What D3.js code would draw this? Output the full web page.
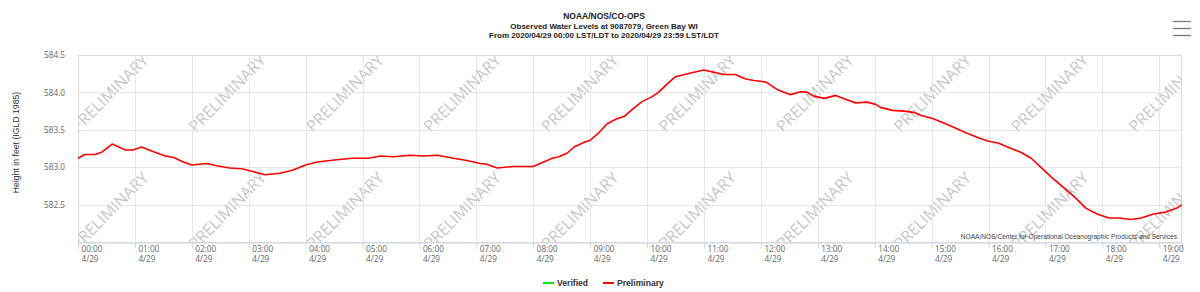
<!DOCTYPE html>
<html>
<head>
<meta charset="utf-8">
<title>Observed Water Levels at 9087079, Green Bay WI</title>
<script src="https://cdnjs.cloudflare.com/ajax/libs/d3/7.8.5/d3.min.js"></script>
<style>
    body { margin: 0; background: #fff; }
    #renderer { display: block; background: #fff; }
</style>
</head>
<body>
<svg id="renderer" width="1200" height="292"></svg>
<script>
    // data (6-minute water levels, feet IGLD 1985)
    var times = ['00:00','00:07','00:18','00:25','00:36','00:50','00:58','01:07','01:19','01:32',
        '01:41','01:51','02:00','02:16','02:26','02:40','02:53','03:05','03:17','03:33',
        '03:46','04:00','04:12','04:33','04:49','05:06','05:19','05:33','05:50','06:04',
        '06:19','06:36','06:50','07:04','07:11','07:22','07:39','08:00','08:09','08:20',
        '08:27','08:36','08:43','08:55','09:00','09:09','09:18','09:27','09:36','09:46',
        '09:55','10:05','10:12','10:21','10:30','10:46','11:00','11:10','11:21','11:33',
        '11:44','11:53','12:05','12:17','12:31','12:42','12:49','12:56','13:07','13:19',
        '13:29','13:40','13:52','14:01','14:06','14:19','14:31','14:42','14:49','15:01',
        '15:11','15:22','15:36','15:48','15:59','16:11','16:20','16:34','16:45','16:55',
        '17:06','17:18','17:30','17:43','17:55','18:07','18:18','18:30','18:41','18:53',
        '19:07','19:18','19:24'];
    var levels = [583.12,583.17,583.17,583.20,583.31,583.23,583.23,583.27,583.21,583.15,
        583.13,583.07,583.03,583.05,583.02,582.99,582.98,582.94,582.90,582.92,
        582.96,583.03,583.07,583.10,583.12,583.12,583.15,583.14,583.16,583.15,
        583.16,583.12,583.09,583.05,583.04,582.99,583.01,583.01,583.06,583.12,
        583.14,583.19,583.27,583.34,583.36,583.46,583.58,583.64,583.68,583.79,
        583.88,583.94,584.00,584.11,584.21,584.26,584.30,584.27,584.24,584.24,
        584.18,584.16,584.14,584.04,583.97,584.01,584.00,583.95,583.92,583.96,
        583.91,583.86,583.87,583.84,583.80,583.76,583.75,583.73,583.69,583.65,
        583.60,583.54,583.46,583.40,583.35,583.32,583.27,583.20,583.12,583.00,
        582.87,582.74,582.61,582.45,582.37,582.32,582.32,582.30,582.32,582.37,
        582.40,582.45,582.50];
    var yTicks = [582.5, 583.0, 583.5, 584.0, 584.5];
    var yRange = [582.0, 584.5];
    var dayLabel = '4/29';
    var titleLines = ['NOAA/NOS/CO-OPS',
        'Observed Water Levels at 9087079, Green Bay WI',
        'From 2020/04/29 00:00 LST/LDT to 2020/04/29 23:59 LST/LDT'];
    var yTitle = 'Height in feet (IGLD 1985)';
    var legendNames = ['Verified', 'Preliminary'];
    var legendColors = ['#00ee00', '#ff0000'];
    var creditText = 'NOAA/NOS/Center for Operational Oceanographic Products and Services';
    var watermark = 'PRELIMINARY';

    var W = 1200, H = 292;
    var plot = { left: 78, right: 1182, top: 55, bottom: 242 };
    var labelFont = '"Open Sans", "Liberation Sans", Arial, sans-serif';
    var arial = '"Liberation Sans", Arial, sans-serif';

    var parse = d3.timeParse('%Y-%m-%d %H:%M');
    var data = times.map(function (t, i) {
        return { t: parse('2020-04-29 ' + t), v: levels[i] };
    });

    var root = d3.select('#renderer');

    var x = d3.scaleTime()
        .domain([data[0].t, data[data.length - 1].t])
        .range([plot.left, plot.right]);
    var y = d3.scaleLinear()
        .domain(yRange)
        .range([plot.bottom, plot.top]);

    root.append('defs').append('clipPath').attr('id', 'plotclip')
        .append('rect')
        .attr('x', plot.left).attr('y', plot.top)
        .attr('width', plot.right - plot.left)
        .attr('height', plot.bottom - plot.top);

    // watermark tiles
    var wm = root.append('g').attr('clip-path', 'url(#plotclip)');
    var step = 117.5;
    for (var j = 0; j < 2; j++) {
        for (var i = 0; i < 10; i++) {
            var wx = plot.left + step * i;
            var wy = 133 + step * j;
            wm.append('text')
                .attr('transform', 'translate(' + wx + ',' + wy + ') rotate(-45)')
                .attr('font-family', labelFont)
                .attr('font-size', '16px')
                .attr('fill', '#c8c8c8')
                .text(watermark);
        }
    }

    // grid
    var hourTicks = x.ticks(d3.timeHour.every(1));
    root.append('g').selectAll('line.vg')
        .data(hourTicks).enter().append('line')
        .attr('x1', function (d) { return Math.round(x(d)) + 0.5; })
        .attr('x2', function (d) { return Math.round(x(d)) + 0.5; })
        .attr('y1', plot.top).attr('y2', plot.bottom)
        .attr('stroke', '#e6e6e6');
    root.append('g').selectAll('line.hg')
        .data(yTicks).enter().append('line')
        .attr('x1', plot.left).attr('x2', plot.right)
        .attr('y1', function (d) { return Math.round(y(d)) + 0.5; })
        .attr('y2', function (d) { return Math.round(y(d)) + 0.5; })
        .attr('stroke', '#e6e6e6');

    // plot border
    root.append('rect')
        .attr('x', plot.left + 0.5).attr('y', plot.top + 0.5)
        .attr('width', plot.right - plot.left - 1)
        .attr('height', plot.bottom - plot.top)
        .attr('fill', 'none')
        .attr('stroke', '#dadada');

    // x axis
    var xAxis = d3.axisBottom(x)
        .ticks(d3.timeHour.every(1))
        .tickSize(6)
        .tickFormat(d3.timeFormat('%H:%M'));
    var gx = root.append('g')
        .attr('transform', 'translate(0,' + (plot.bottom + 0.5) + ')')
        .call(xAxis);
    gx.select('.domain').attr('stroke', '#ccd6eb');
    gx.selectAll('.tick line').attr('stroke', '#ccd6eb');
    gx.selectAll('.tick text')
        .attr('font-family', labelFont)
        .attr('font-size', '8.2px')
        .attr('fill', '#666')
        .attr('text-anchor', 'start')
        .attr('x', 3).attr('y', 0).attr('dy', null)
        .each(function () {
            var t = d3.select(this);
            var hh = t.text();
            t.text(null);
            t.append('tspan').attr('x', 3).attr('y', 9).text(hh);
            t.append('tspan').attr('x', 3).attr('y', 19.5).text(dayLabel);
        });

    // y axis labels
    var yAxis = d3.axisLeft(y).tickValues(yTicks).tickSize(0).tickPadding(13)
        .tickFormat(d3.format('.1f'));
    var gy = root.append('g')
        .attr('transform', 'translate(' + plot.left + ',0)')
        .call(yAxis);
    gy.select('.domain').remove();
    gy.selectAll('.tick text')
        .attr('font-family', labelFont)
        .attr('font-size', '8.2px')
        .attr('fill', '#666');

    root.append('text')
        .attr('transform', 'translate(19,' + ((plot.top + plot.bottom) / 2 - 6) + ') rotate(-90)')
        .attr('text-anchor', 'middle')
        .attr('font-family', arial)
        .attr('font-size', '8.7px')
        .attr('fill', '#333')
        .text(yTitle);

    // series
    var line = d3.line()
        .x(function (d) { return x(d.t); })
        .y(function (d) { return y(d.v); });
    root.append('path')
        .datum(data)
        .attr('clip-path', 'url(#plotclip)')
        .attr('d', line)
        .attr('fill', 'none')
        .attr('stroke', '#ff0000')
        .attr('stroke-width', 1.6)
        .attr('stroke-linejoin', 'round');

    // title
    var titleY = [18.5, 28.5, 38];
    root.append('g').selectAll('text')
        .data(titleLines).enter().append('text')
        .attr('x', 604)
        .attr('y', function (d, i) { return titleY[i]; })
        .attr('text-anchor', 'middle')
        .attr('font-family', arial)
        .attr('font-weight', 'bold')
        .attr('font-size', function (d, i) { return i === 0 ? '8.5px' : '8px'; })
        .attr('fill', '#222')
        .text(function (d) { return d; });

    // credits
    root.append('text')
        .attr('x', 1177).attr('y', 239)
        .attr('text-anchor', 'end')
        .attr('font-family', arial)
        .attr('font-size', '6.6px')
        .attr('fill', '#444')
        .text(creditText);

    // legend
    var legendX = [543, 603];
    var lg = root.append('g').selectAll('g')
        .data(legendNames).enter().append('g')
        .attr('transform', function (d, i) { return 'translate(' + legendX[i] + ',283)'; });
    lg.append('line')
        .attr('x1', 0).attr('x2', 11)
        .attr('stroke', function (d, i) { return legendColors[i]; })
        .attr('stroke-width', 2);
    lg.append('text')
        .attr('x', 14).attr('y', 3)
        .attr('font-family', arial)
        .attr('font-weight', 'bold')
        .attr('font-size', '8.6px')
        .attr('fill', '#333')
        .text(function (d) { return d; });

    // context menu icon
    root.append('g').selectAll('line')
        .data([21.5, 28.5, 35.5]).enter().append('line')
        .attr('x1', 1173).attr('x2', 1191)
        .attr('y1', function (d) { return d; })
        .attr('y2', function (d) { return d; })
        .attr('stroke', '#777')
        .attr('stroke-width', 1.3);
</script>
</body>
</html>
